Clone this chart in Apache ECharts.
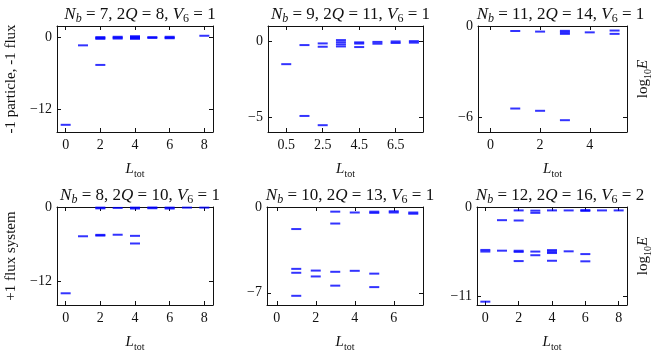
<!DOCTYPE html>
<html>
<head>
<meta charset="utf-8">
<script src="https://cdn.jsdelivr.net/npm/echarts@6/dist/echarts.min.js"></script>
<style>
html, body { margin: 0; padding: 0; background: #fff; }
#chart { width: 654px; height: 353px; }
</style>
</head>
<body>
<div id="chart"></div>
<script>
// system parameters for each panel (title text)
var nb = [7, 9, 11, 8, 10, 12];
var twoQ = [8, 11, 14, 10, 13, 16];
var v6 = [1, 1, 1, 1, 1, 2];

// energy levels [L_tot, log10 E]
var levels1 = [[0, -14.6], [1, -1.33], [2, 0.05], [2, -0.1], [2, -0.25], [2, -4.6],
  [3, 0.1], [3, -0.05], [3, -0.2], [4, 0.2], [4, 0.05], [4, -0.1], [4, -0.25],
  [5, 0.05], [5, -0.1], [6, 0.1], [6, -0.05], [6, -0.15], [8, 0.27]];
var levels2 = [[0.5, -1.52], [1.5, -0.26], [1.5, -4.94], [2.5, -0.15], [2.5, -0.37], [2.5, -5.55],
  [3.5, 0.07], [3.5, -0.07], [3.5, -0.21], [3.5, -0.35], [4.5, -0.08], [4.5, -0.16], [4.5, -0.39],
  [5.5, -0.05], [5.5, -0.17], [6.5, -0.02], [6.5, -0.12], [7.5, 0], [7.5, -0.1]];
var levels3 = [[1, -0.33], [1, -5.45], [2, -0.37], [2, -5.6], [3, -0.32], [3, -0.42], [3, -0.52],
  [3, -6.22], [4, -0.42], [5, -0.3], [5, -0.52]];
var levels4 = [[0, -14.0], [1, -4.75], [2, -4.52], [2, -4.64], [2, -0.1], [2, -0.22], [3, -4.5],
  [3, -0.15], [4, -4.68], [4, -5.92], [4, -0.1], [4, -0.25], [5, -0.08], [5, -0.2],
  [6, -0.1], [6, -0.25], [7, -0.1], [8, -0.1]];
var levels5 = [[1, -1.8], [1, -5.05], [1, -5.37], [1, -7.25], [2, -5.19], [2, -5.67],
  [3, -0.38], [3, -1.35], [3, -5.29], [3, -6.42], [4, -0.45], [4, -5.21],
  [5, -0.38], [5, -0.48], [5, -5.44], [5, -6.54], [6, -0.35], [6, -0.45], [7, -0.45], [7, -0.55]];
var levels6 = [[0, -5.28], [0, -5.48], [0, -11.64], [1, -1.62], [1, -5.37], [2, -0.42], [2, -1.66],
  [2, -5.38], [2, -5.52], [2, -6.65], [3, -0.45], [3, -0.72], [3, -5.48], [3, -5.93],
  [4, -0.42], [4, -5.3], [4, -5.48], [4, -5.66], [4, -6.61], [5, -0.42], [5, -5.45],
  [6, -0.38], [6, -0.48], [6, -5.79], [6, -6.68], [7, -0.42], [8, -0.42]];

// axis ticks
var xTicks = [[0, 2, 4, 6, 8], [0.5, 2.5, 4.5, 6.5], [0, 2, 4], [0, 2, 4, 6, 8], [0, 2, 4, 6], [0, 2, 4, 6, 8]];
var yTicks = [[-12, 0], [-5, 0], [-6, 0], [-12, 0], [-7, 0], [-11, 0]];
var xMin = [-0.5, -0.5, -0.5, -0.5, -0.5, -0.5];
var xMax = [8.5, 8, 5.5, 8.5, 7.5, 8.5];
var yMin = [-15.8, -6, -7, -15.9, -8, -12.05];
var yMax = [1.9, 1, 0, 0, 0, 0];

var allLevels = [levels1, levels2, levels3, levels4, levels5, levels6];

var grids = [
  {left: 57, top: 26, width: 156, height: 106},
  {left: 268, top: 26, width: 155, height: 106},
  {left: 478, top: 26, width: 155, height: 106},
  {left: 57, top: 207, width: 156, height: 106},
  {left: 267, top: 207, width: 156, height: 106},
  {left: 477, top: 207, width: 156, height: 107}
];

var serif = 'Liberation Serif';
var ink = '#111';
function richStyles(size) {
  var sub = Math.round(size * 0.68);
  return {
    r: {fontFamily: serif, fontSize: size, fontWeight: 'normal', color: ink, lineHeight: 20},
    i: {fontFamily: serif, fontSize: size, fontWeight: 'normal', color: ink, fontStyle: 'italic', lineHeight: 20},
    s: {fontFamily: serif, fontSize: sub, fontWeight: 'normal', color: ink, lineHeight: 10, verticalAlign: 'bottom'},
    si: {fontFamily: serif, fontSize: sub, fontWeight: 'normal', color: ink, fontStyle: 'italic', lineHeight: 10, verticalAlign: 'bottom'}
  };
}
function fmt(v) { return String(v).replace('-', '\u2212'); }

var option = {
  animation: false,
  backgroundColor: '#fff',
  title: [], grid: [], xAxis: [], yAxis: [], series: []
};

for (var p = 0; p < 6; p++) {
  var g = grids[p];
  option.grid.push(g);
  option.title.push({
    left: g.left + g.width / 2,
    top: p < 3 ? 0 : 181,
    textAlign: 'center',
    text: '{i|N}{si|b}{r| = ' + nb[p] + ', 2}{i|Q}{r| = ' + twoQ[p] + ', }{i|V}{s|6}{r| = ' + v6[p] + '}',
    textStyle: {fontWeight: 'normal', rich: richStyles(17)}
  });
  var axisLine = {show: true, onZero: false, lineStyle: {color: ink, width: 1}};
  var xb = {
    type: 'value', gridIndex: p, position: 'bottom', min: xMin[p], max: xMax[p],
    axisLine: axisLine, splitLine: {show: false},
    axisTick: {inside: true, length: 4, customValues: xTicks[p], lineStyle: {color: ink}},
    axisLabel: {customValues: xTicks[p], formatter: fmt, fontFamily: serif, fontSize: 14, color: ink, margin: 6},
    name: '{i|L}{s|tot}', nameLocation: 'middle', nameGap: 27,
    nameTextStyle: {rich: richStyles(15)}
  };
  var xt = {
    type: 'value', gridIndex: p, position: 'top', min: xMin[p], max: xMax[p],
    axisLine: axisLine, splitLine: {show: false},
    axisTick: {inside: true, length: 4, customValues: xTicks[p], lineStyle: {color: ink}},
    axisLabel: {show: false, customValues: xTicks[p]}
  };
  var yl = {
    type: 'value', gridIndex: p, position: 'left', min: yMin[p], max: yMax[p],
    axisLine: axisLine, splitLine: {show: false},
    axisTick: {inside: true, length: 4, customValues: yTicks[p], lineStyle: {color: ink}},
    axisLabel: {customValues: yTicks[p], formatter: fmt, fontFamily: serif, fontSize: 14, color: ink, margin: 5}
  };
  var yr = {
    type: 'value', gridIndex: p, position: 'right', min: yMin[p], max: yMax[p],
    axisLine: axisLine, splitLine: {show: false},
    axisTick: {inside: true, length: 4, customValues: yTicks[p], lineStyle: {color: ink}},
    axisLabel: {show: false, customValues: yTicks[p]}
  };
  if (p === 0 || p === 3) {
    yl.name = p === 0 ? '-1 particle, -1 flux' : '+1 flux system';
    yl.nameLocation = 'middle';
    yl.nameGap = 38;
    yl.nameTextStyle = {fontFamily: serif, fontSize: 15, color: ink};
  }
  if (p === 2 || p === 5) {
    yr.name = '{r|log}{s|10}{i|E}';
    yr.nameLocation = 'middle';
    yr.nameRotate = 90;
    yr.nameGap = 6;
    yr.nameTextStyle = {rich: richStyles(15)};
  }
  option.xAxis.push(xb, xt);
  option.yAxis.push(yl, yr);
  option.series.push({
    type: 'scatter',
    xAxisIndex: 2 * p, yAxisIndex: 2 * p,
    symbol: 'rect', symbolSize: [10, 2],
    itemStyle: {color: '#0000ff'},
    data: allLevels[p]
  });
}

var chart = echarts.init(document.getElementById('chart'));
chart.setOption(option);
</script>
</body>
</html>
